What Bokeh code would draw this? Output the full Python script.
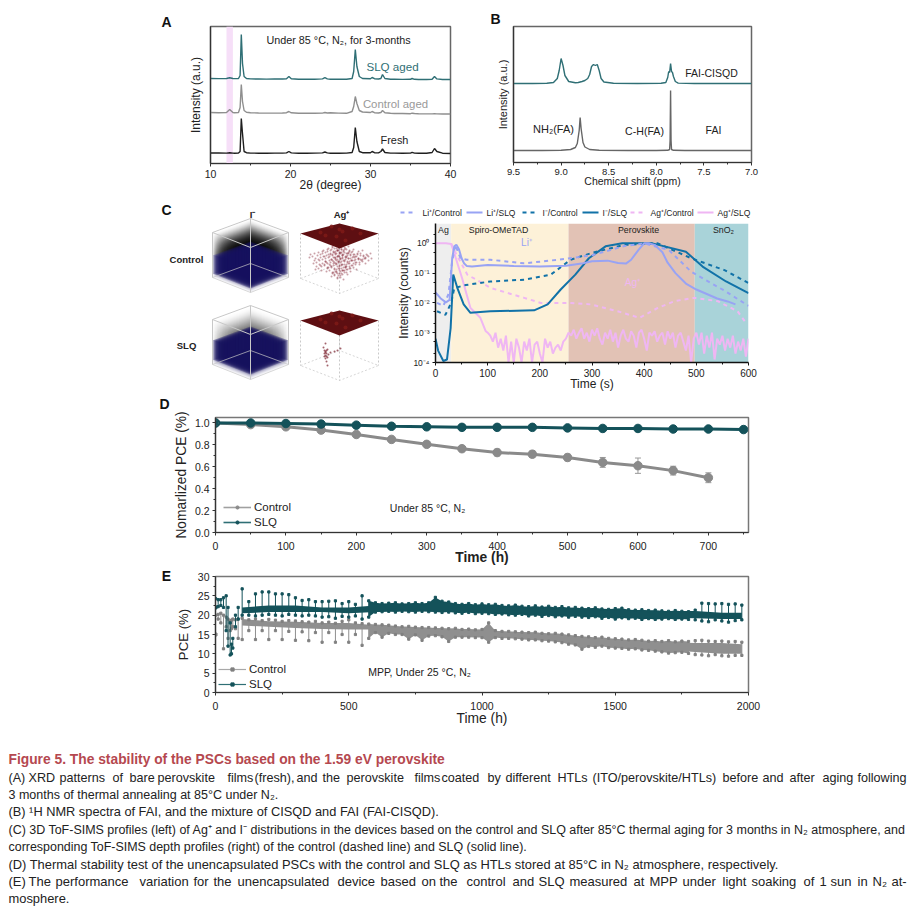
from bokeh.plotting import figure
from bokeh.layouts import column, row
from bokeh.models import (Label, FixedTicker, Legend, LegendItem, BoxAnnotation, TeeHead, Title,
                          CustomJSTickFormatter, Range1d, Whisker, ColumnDataSource)
from bokeh.core.properties import value
from bokeh.embed import file_html
from bokeh.resources import INLINE
import numpy as np

FONT = "Liberation Sans"
TEAL = "#2f6f75"; DTEAL = "#14525a"; GREY = "#8a8a8a"; INK = "#222222"

# ---------- Panel A: XRD ----------
xrd_x = [10,11,12,12.4,12.8,13,13.5,13.7,13.85,14,14.2,14.5,15,16,17,18,19,19.5,19.8,20.1,21,22,23,24,24.3,24.6,25,26,27,27.7,27.9,28.1,28.3,28.6,29,30,30.2,30.5,31,31.3,31.5,31.8,32.5,33,34,35,35.2,35.5,36,37,37.7,38,38.3,39,40]
xrd_fresh = [10.5,10.5,10.4,10.8,10.4,10.3,10.5,12,45,30,12,10.8,10.4,10.3,10.3,10.4,10.4,10.6,12,10.6,10.3,10.3,10.4,10.6,11.5,10.6,10.3,10.3,10.4,11,16,36,22,12,10.8,10.8,12,10.8,10.6,12,14.5,11,10.4,10.4,10.3,10.4,11.2,10.4,10.2,10.2,11,15,12,10.3,10]
xrd_control = [51,50.8,51,54,51,50.8,51,56,79,62,53,51.2,50.8,50.5,50.4,50.4,50.5,50.8,52,50.7,50.3,50.2,50.2,50.4,51,50.5,50.7,50.4,50.2,52,57,67,60,53,51.5,51,52,50.8,50.5,51,53,50.8,50.2,50,50,49.8,50.3,50,49.8,49.6,49.6,49.8,49.6,49.5,49.5]
xrd_slq = [85,84.9,85,85.8,85,84.9,85,88,129,100,87,85,84.6,84.5,84.4,84.5,84.5,84.8,87,84.7,84.3,84.2,84.3,84.6,85.8,84.6,84.3,84.2,84.3,85,92,114,97,87,85,84.8,86,84.8,84.5,85,89,85,84.2,84.2,84.1,84.2,85,84.2,84,84,84.3,87,84.6,84,84]
xrd_xticks = [10,20,30,40]
xrd_band = (12.0,12.8)

# ---------- Panel B: NMR ----------
nmr_x = [9.5,9.3,9.15,9.08,9.04,9.02,9.0,8.98,8.96,8.92,8.85,8.82,8.8,8.78,8.75,8.72,8.7,8.68,8.66,8.64,8.62,8.6,8.58,8.55,8.45,8.2,7.95,7.9,7.88,7.87,7.86,7.85,7.84,7.83,7.82,7.8,7.77,7.6,7.3,7.0]
nmr_mix = [79,79,79.3,80,84,92,104,97,87,81,79.7,80,80.5,81,82,84,88,96,98,97,98,92,84,80.5,79.3,79,79.2,80,85,91,90,99,91,90,86,81,79.4,79,79,79]
nmr_fai_x = [9.5,9.2,9.0,8.9,8.85,8.83,8.81,8.8,8.79,8.77,8.75,8.7,8.6,8.3,8.0,7.88,7.86,7.855,7.85,7.845,7.84,7.82,7.7,7.3,7.0]
nmr_fai = [12,12,12.3,13,15,19,32,45,34,20,15.5,13,12.3,12,12,12.2,13,22,72,22,13,12.2,12,12,12]
nmr_xticks = [9.5,9.0,8.5,8.0,7.5,7.0]

# ---------- Panel C: depth profiles (values are log10 counts) ----------
li_slq_t = [0,10,20,27,32,36,40,45,50,55,60,70,100,150,200,250,280,300,330,350,365,375,390,400,410,420,435,445,460,480,500,520,540,560,575]
li_slq = [-1.65,-1.85,-1.98,-1.9,-0.5,-0.1,-0.05,-0.2,-0.5,-0.68,-0.76,-0.78,-0.73,-0.76,-0.78,-0.75,-0.68,-0.6,-0.58,-0.66,-0.68,-0.55,-0.2,0,0,-0.05,-0.3,-0.65,-1.0,-1.35,-1.55,-1.7,-1.85,-1.95,-2.05]
li_ctl_t = [3,15,25,32,38,48,60,105,170,235,300,360,400,447,490,555,600]
li_ctl = [-2.0,-2.1,-1.7,-0.6,-0.05,-0.5,-0.55,-0.55,-0.67,-0.55,-0.4,-0.1,0,-0.22,-0.95,-1.6,-2.1]
i_slq_t = [0,5,15,22,29,34,42,54,67,105,189,215,240,268,294,326,358,416,480,512,557,600]
i_slq = [-3.2,-3.6,-3.95,-3.9,-2.85,-1.05,-1.5,-2.05,-2.33,-2.28,-2.25,-2.05,-1.55,-1.05,-0.5,-0.1,0,0,-0.28,-0.78,-1.28,-1.67]
i_ctl_t = [3,19,30,36,58,105,170,221,259,298,362,426,490,554,600]
i_ctl = [-2.28,-2.4,-2.0,-1.5,-1.4,-1.28,-1.22,-1.05,-0.55,-0.33,-0.05,0,-0.5,-0.9,-1.33]
ag_ctl_t = [30,35,61,106,170,202,253,298,349,391,426,458,496,541,579,595]
ag_ctl = [0,-0.2,-1.05,-1.5,-1.83,-2,-2,-2.05,-2.28,-2.5,-2.17,-1.94,-1.83,-1.94,-2.28,-2.67]
ag_slq_t = [0,10,20,30,35,51,67,86,96,100] + list(range(105,601,5))
ag_slq = [0,0,0,-0.02,-0.28,-1.17,-2.17,-2.5,-2.94,-3.0,
  -3.1,-3.3,-3.0,-3.5,-3.2,-3.6,-3.1,-4.0,-3.3,-4,-3.2,-3.5,-4,-3.3,-3.6,-3.2,-4,-3.4,-3.3,-3.7,-4,-3.2,-3.5,-3.3,-3.7,-3.5,-3.4,-3.6,-3.3,-3.2,
  -3.0,-3.1,-2.9,-3.2,-3.0,-2.85,-3.2,-3.0,-3.3,-2.9,-3.1,-2.85,-3.2,-3.4,-3.0,-3.2,-2.9,-3.3,-3.0,-3.5,-3.1,-2.9,-3.2,-3.3,-2.95,-3.1,-3.5,-3.0,-2.9,-3.2,-3.6,-3.0,-3.1,-2.95,-3.3,-3.1,-3.0,-3.4,-2.95,-3.2,-3.0,-3.5,-3.1,-3.0,-3.3,-3.6,-3.1,-4,-3.2,
  -3.0,-3.4,-3.0,-3.7,-3.1,-3.5,-3.0,-3.9,-3.2,-3.4,-3.1,-3.6,-3.2,-3.5,-3.1,-3.7,-3.3,-3.6,-3.2,-3.8,-3.2]
regions = [("Ag",0,30,"#eeeeee"),("Spiro-OMeTAD",30,255,"#fdf1d8"),("Perovskite",255,497,"#e2c2b5"),("SnO₂",497,605,"#a9d3d9")]
log_ticks = [1e-4,1e-3,1e-2,1e-1,1]

# Panel C cubes: depth layers (offset from cube top, colour, alpha)
ctl_layers = [(o,"#000000",.004+o*.0095) for o in range(0,23)] + [(o,"#17125f",.45) for o in range(23,42)] + \
             [(o,"#17125f",a) for o,a in zip([42,43,44,45],[.12,.08,.05,.03])]
slq_layers = [(o,"#000000",.001+o*.0028) for o in range(0,21)] + [(o,"#17125f",.48) for o in range(21,41)] + \
             [(o,"#17125f",a) for o,a in zip([41,42,43,44,45],[.16,.1,.07,.05,.03])]
ag_ctl_dots_x = [312,316,320,322,325,327,328,330,331,332,333,334,335,335,336,336,337,338,338,339,339,340,341,342,342,343,344,345,346,346,348,349,350,352,353,355,356,358,360,362,365,368,318,324,329,344,347,351,334,340,337,343]
ag_ctl_dots_y = [256,262,254,259,252,263,257,250,266,255,261,248,253,259,264,271,256,250,262,252,268,258,247,255,264,251,260,256,249,266,258,263,254,260,267,256,262,258,253,261,258,256,268,265,270,272,269,252,275,277,273,270]
ag_slq_dots_x = [323,324,324,325,325,325,326,326,326,327,327,328,330,334,337,340,327,325,324,326,325]
ag_slq_dots_y = [347,350,353,351,355,358,350,353,361,349,357,354,352,351,350,348,365,343,356,356,352]
ag_top_spots_x = [320,331,345,360,336,352,325,342,339]
ag_top_spots_y = [232,226,240,233,236,228,235,231,229]
legend_glyph_x = [(400,415),(466,482),(522,537),(582,598),(630,645),(697,713)]
legend_label_x = [422,486,542,602,650,717]

# ---------- Panel D ----------
d_t_control = [0,50,100,150,200,250,300,350,400,450,500,550,600,650,700]
d_control = [1.0,.985,.965,.935,.895,.85,.805,.765,.73,.715,.685,.64,.61,.565,.50]
d_err = [.01,.02,.02,.02,.02,.02,.02,.02,.03,.03,.03,.045,.07,.04,.045]
d_t_slq = [0,50,100,150,200,250,300,350,400,450,500,550,600,650,700,750]
d_slq = [1.0,1.0,.995,.99,.98,.97,.965,.96,.96,.96,.955,.95,.95,.945,.945,.94]

# ---------- Panel E ----------
e_t = [0,10,20,30,40,47,55,60,65,75,85] + list(range(100,1976,25))
e_slq_hi = [24.3,24,24,24.5,25,22,18,12.5,14,20,22,
  26.8,23.5,25.5,26,26,25.5,25.5,25.3,24.5,23.8,24,23.5,23.5,23.6,23.7,23,23.5,22.8,25,23.7,
  23.2,23,23.1,23.2,22.9,23,23.2,23,23.2,24.6,23.6,23.4,23,22.8,23,22.7,
  22.9,22.7,22.8,22.5,22.4,22.6,22.3,22.2,22.4,22.1,22.3,22,22.2,21.9,22,21.8,
  21.7,21.9,21.6,21.5,21.7,21.8,21.4,21.3,21.4,21.2,21.3,21.1,21,21.2,21,20.9,
  21.3,23.1,23,22.9,23,22.8,22.9,22.6]
e_slq_lo = [22,22.2,22.5,22,16,12,9.7,10,11.5,17,19,
  20,20,19.8,20,20.2,20,19.8,20.2,20,19.8,20,19.8,19.5,19.6,19.2,19.7,19.5,19.8,19,19.5,
  20.8,20.9,21,20.8,21,20.9,20.8,21,20.9,20.8,20.7,20.8,20.6,20.5,20.7,20.4,
  20.5,20.4,20.2,20.3,20.1,20,20.2,19.8,20,19.7,19.9,19.6,19.8,19.5,19.7,19.5,
  19.4,19.6,19.2,19.4,19,19.3,19.1,19.2,18.9,19.1,18.9,19,19.1,18.9,19,18.9,
  18.8,18.5,18.3,18.8,18.5,18.2,18.6,18.8]
e_ctl_hi = [20,20.2,20.5,20,19.5,19,18.5,18.7,19,18.8,19,
  19.2,18.8,19,18.6,18.9,18.7,18.4,18.6,18.5,18.3,18.2,18.4,18,18.2,17.9,18.4,18.8,18,17.8,17.7,
  17.6,17.5,17.4,17.2,17,17.1,16.9,16.8,16.8,16.7,16.6,16.5,16.6,16.3,16.4,16.2,
  16.3,18,16,15.8,15.8,15.7,15.6,15.5,15.6,15.3,15.2,15.3,15.1,14.9,14.7,14.5,
  14.4,14.2,14.3,14,13.9,13.8,13.6,13.7,13.5,13.3,13.4,13.2,13.4,13.1,13.3,13.2,
  13.4,13.5,13.3,13.2,13.3,13.1,13.2,13]
e_ctl_lo = [15,19,18,11.3,17,14,16,16.5,17,16.5,14,
  13.7,16,13.7,16,13.7,16,13.7,15.8,13.5,15.7,13.4,15.5,13,15.5,13,15,13,15,12.2,14,
  15.5,14.3,15.3,15,15,13.8,14.9,13.5,14.6,14.7,14.4,13.2,14.3,14.3,14.3,14.2,
  14.2,13,14.2,14,14,13.9,13.8,13.6,13.6,13.4,13.3,13.1,12.9,12.5,12.3,11.2,
  11.9,11.7,12,11.6,11.5,11.4,11.2,11.3,11,10.9,10.7,10.5,10.2,10.3,10.4,10.1,
  9.8,9.7,9.5,9.8,9.5,9.4,9.6,9.6]
core_t = [100,200,300,400,500,600,700,800,900,1000,1100,1200,1300,1400,1500,1600,1700,1800,1900,1975]
slq_core_hi = [22,22.5,22.5,22,22,22.5,23,22.8,22.6,22.5,22.3,22,21.9,21.8,21.5,21.3,21.1,21.1,20.6,20.6]
slq_core_lo = [20.5,20.8,20.8,20.8,20.5,20.8,21,21,20.9,20.7,20.5,20.2,20,20,19.7,19.4,19.3,19.2,19,19]
ctl_core_hi = [19,18.4,18.3,18,18,17.4,17,16.7,16.5,16.2,15.7,15.5,15,14.3,13.5,13.1,13,12.8,12.8,12.5]
ctl_core_lo = [17.3,17,16.7,16.4,16.3,16.3,15.9,15.5,15,14.6,14.2,13.8,13.4,12.5,11.9,11.5,11,10.5,10,10]

# ---------- Caption (words of justified lines carry their own x) ----------
caption = [
 (759, [(8,"Figure 5.  The stability of the PSCs based on the 1.59 eV perovskite")], "#b5484f", "bold", 13.8),
 (777, [(8,"(A)"),(28,"XRD"),(59,"patterns"),(112,"of"),(129,"bare"),(157,"perovskite"),(227,"films"),(254,"(fresh),"),(296,"and"),(322,"the"),(346,"perovskite"),(414,"films"),(441,"coated"),(487,"by"),(505,"different"),(557,"HTLs"),(592,"(ITO/perovskite/HTLs)"),(722,"before"),(762,"and"),(789,"after"),(822,"aging"),(857,"following")], INK, "normal", 12.6),
 (794, [(8,"3 months of thermal annealing at 85°C under N₂.")], INK, "normal", 12.5),
 (811, [(8,"(B) ¹H NMR spectra of FAI, and the mixture of CISQD and FAI (FAI-CISQD).")], INK, "normal", 12.8),
 (829, [(8,"(C) 3D ToF-SIMS profiles (left) of Ag⁺ and I⁻ distributions in the devices based on the control and SLQ after 85°C thermal aging for 3 months in N₂ atmosphere, and")], INK, "normal", 12.47),
 (846, [(8,"corresponding ToF-SIMS depth profiles (right) of the control (dashed line) and SLQ (solid line).")], INK, "normal", 12.45),
 (864, [(8,"(D) Thermal stability test of the unencapsulated PSCs with the control and SLQ as HTLs stored at 85°C in N₂ atmosphere, respectively.")], INK, "normal", 12.9),
 (881, [(8,"(E)"),(28,"The"),(55,"performance"),(139,"variation"),(193,"for"),(213,"the"),(237,"unencapsulated"),(337,"device"),(380,"based"),(421,"on"),(439,"the"),(466,"control"),(512,"and"),(538,"SLQ"),(569,"measured"),(633,"at"),(649,"MPP"),(682,"under"),(722,"light"),(751,"soaking"),(803,"of"),(819,"1"),(830,"sun"),(857,"in"),(872,"N₂"),(891,"at-")], INK, "normal", 13.0),
 (898, [(8,"mosphere.")], INK, "normal", 12.9),
]


def make(width, height, fl, ft, fr, fb, xr, yr, **kw):
    """Figure whose frame has page-pixel borders fl/ft/fr/fb."""
    p = figure(width=width, height=height, output_backend="svg", toolbar_location=None,
               min_border_left=fl, min_border_top=ft, min_border_right=fr, min_border_bottom=fb,
               x_range=Range1d(*xr), y_range=Range1d(*yr), frame_align=False, **kw)
    p.grid.visible = False
    p.background_fill_color = None
    p.border_fill_color = None
    return p


def plain(width, height, xr, yr):
    p = make(width, height, 0, 0, 0, 0, xr, yr, x_axis_location=None, y_axis_location=None)
    p.outline_line_color = None
    return p


def style_axis(ax, tick=9.5, lab=11.5, color="#333333", width=1.2, tick_gap=3):
    ax.major_label_text_font = FONT
    ax.major_label_text_font_size = f"{tick}px"
    ax.major_label_text_color = INK
    ax.axis_label_text_font = FONT
    ax.axis_label_text_font_style = "normal"
    ax.axis_label_text_font_size = f"{lab}px"
    ax.axis_label_text_color = INK
    ax.axis_line_color = color
    ax.axis_line_width = width
    ax.major_tick_line_color = color
    ax.minor_tick_line_color = color
    ax.major_tick_out = 3
    ax.major_tick_in = 0
    ax.minor_tick_out = 2
    ax.minor_tick_in = 0
    ax.major_label_standoff = tick_gap


def frame(p, color="#666666", width=1.5):
    p.outline_line_color = color
    p.outline_line_width = width
    p.outline_line_alpha = 1


def note(p, x, y, text, size=10, color=INK, align="center", bold=False, angle=0):
    p.add_layout(Label(x=x, y=y, text=text, text_font=FONT, text_font_size=f"{size}px", text_color=color,
                       text_align=align, text_baseline="middle", angle=angle,
                       text_font_style="bold" if bold else "normal"))


def letter_strip(letter, width, top, height, x, y):
    s = plain(width, height, (0, width), (top + height, top))
    note(s, x, y, letter, 14, "#111111", bold=True)
    return s


# ===== A =====
sa = letter_strip("A", 175, 0, 195, 166, 21)
pa = make(295, 195, 35, 26, 20, 32, (10, 40), (0, 137))
pa.add_layout(BoxAnnotation(left=xrd_band[0], right=xrd_band[1], fill_color="#f6dff8", fill_alpha=1, line_color=None, level="underlay"))
pa.line(xrd_x, xrd_fresh, line_color="#1f1f1f", line_width=1.4)
pa.line(xrd_x, xrd_control, line_color="#8f8f8f", line_width=1.4)
pa.line(xrd_x, xrd_slq, line_color=TEAL, line_width=1.4)
pa.xaxis.ticker = FixedTicker(ticks=xrd_xticks, minor_ticks=[15, 25, 35])
pa.xaxis.axis_label = "2θ (degree)"
pa.yaxis.axis_label = "Intensity (a.u.)"
pa.yaxis.ticker = FixedTicker(ticks=[])
style_axis(pa.xaxis[0], tick=10.5, lab=12); style_axis(pa.yaxis[0], lab=12)
pa.xaxis.axis_label_standoff = -3
pa.yaxis.axis_label_standoff = 8
frame(pa)
fa = lambda px: 10 + (px - 210) / 8.0
ga = lambda py: 163 - py
note(pa, fa(338), ga(39), "Under 85 °C, N₂, for 3-months", 10.8)
note(pa, fa(392), ga(66), "SLQ aged", 11.6, TEAL)
note(pa, fa(395), ga(103), "Control aged", 11.4, "#999999")
note(pa, fa(394), ga(139), "Fresh", 10.9)

# ===== B =====
pb = make(435, 195, 43, 26, 154, 33, (9.5, 7.0), (0, 136))
pb.title = Title(text="B", align="left", offset=-23, standoff=0, text_font=FONT, text_font_size="14px",
                 text_font_style="bold", text_color="#111111")
pb.line(nmr_x, nmr_mix, line_color=TEAL, line_width=1.4)
pb.line(nmr_fai_x, nmr_fai, line_color="#666666", line_width=1.4)
pb.xaxis.ticker = FixedTicker(ticks=nmr_xticks, minor_ticks=[9.25, 8.75, 8.25, 7.75, 7.25])
pb.xaxis.formatter = CustomJSTickFormatter(code="return tick.toFixed(1);")
pb.xaxis.axis_label = "Chemical shift (ppm)"
pb.yaxis.axis_label = "Intensity (a.u.)"
pb.yaxis.ticker = FixedTicker(ticks=[])
style_axis(pb.xaxis[0], tick=9.5, lab=10.5); style_axis(pb.yaxis[0], lab=11)
pb.xaxis.axis_label_standoff = -3
pb.yaxis.axis_label_standoff = 5
frame(pb)
fb_ = lambda px: 9.5 - (px - 513) * 2.5 / 238.0
gb = lambda py: 162 - py
note(pb, fb_(711), gb(72), "FAI-CISQD", 10.5)
note(pb, fb_(553), gb(128), "NH₂(FA)", 11)
note(pb, fb_(644), gb(130), "C-H(FA)", 10.6)
note(pb, fb_(713), gb(129), "FAI", 10.5)

# ===== C, cubes (axes are page pixels) =====
pc = plain(390, 198, (0, 390), (393, 195))


def rhomb(cx, y, hw=38, back=14, front=15):
    return [cx - hw, cx, cx + hw, cx], [y, y - back, y, y + front]


for dy, layers in [(0, ctl_layers), (87, slq_layers)]:
    xs, ys, cols, alphas = [], [], [], []
    for off, c, a in layers:
        rx, ry = rhomb(250, 232 + dy + off)
        xs.append(rx); ys.append(ry); cols.append(c); alphas.append(a)
    pc.patches(xs, ys, fill_color=cols, fill_alpha=alphas, line_color=None)
    wire = "#c8c8c8"
    rx, ry = rhomb(250, 232 + dy)
    pc.patch(rx, ry, fill_color=None, line_color=wire, line_width=1)
    rx, ry = rhomb(250, 277 + dy)
    pc.patch(rx, ry, fill_color=None, line_color=wire, line_width=1, line_alpha=.7)
    pc.segment([212, 288, 250, 250], [232 + dy, 232 + dy, 247 + dy, 218 + dy],
               [212, 288, 250, 250], [277 + dy, 277 + dy, 292 + dy, 263 + dy], line_color=wire, line_width=1)
    # Ag+ cube
    rx, ry = rhomb(339, 278 + dy, hw=39, back=15, front=15)
    pc.patch(rx, ry, fill_color=None, line_color="#cccccc", line_width=.8, line_dash="2 2")
    pc.segment([300, 378, 339, 339], [233 + dy, 233 + dy, 248 + dy, 223 + dy],
               [300, 378, 339, 339], [278 + dy, 278 + dy, 293 + dy, 263 + dy], line_color="#bbbbbb", line_width=.8, line_dash="2 2")

for sx, sy in [(0, 0), (3, 2), (-3, 1), (2, -3), (-2, -2)]:
    pc.scatter([v + sx for v in ag_ctl_dots_x], [v + sy for v in ag_ctl_dots_y], size=2, color="#8a2f3c", alpha=.45, line_color=None)
pc.scatter(ag_slq_dots_x, ag_slq_dots_y, size=2, color="#7a1f2c", alpha=.7, line_color=None)
for dy in (0, 87):
    rx, ry = rhomb(339, 233 + dy, hw=39, back=10, front=15)
    pc.patch(rx, ry, fill_color="#5e0f12", line_color=None)
pc.scatter(ag_top_spots_x, ag_top_spots_y, size=4, color="#7f1a18", alpha=.8, line_color=None)
pc.scatter(ag_top_spots_x, [v + 87 for v in ag_top_spots_y], size=4, color="#7f1a18", alpha=.8, line_color=None)
note(pc, 166, 209, "C", 14, "#111111", bold=True)
note(pc, 252, 214, "I⁻", 9.5, bold=True)
note(pc, 341, 214, "Ag⁺", 9.5, bold=True)
note(pc, 186, 259, "Control", 9.5, bold=True)
note(pc, 186, 345, "SLQ", 9.5, bold=True)

# ===== C, legend strip and depth profiles =====
LI = "#98a3f4"; IOD = "#1172a8"; AG = "#efb6f3"
series = [("Li⁺/Control", li_ctl_t, li_ctl, LI, "4 4"), ("Li⁺/SLQ", li_slq_t, li_slq, LI, "solid"),
          ("I⁻/Control", i_ctl_t, i_ctl, IOD, "4 4"), ("I⁻/SLQ", i_slq_t, i_slq, IOD, "solid"),
          ("Ag⁺/Control", ag_ctl_t, ag_ctl, AG, "4 4"), ("Ag⁺/SLQ", ag_slq_t, ag_slq, AG, "solid")]
pl = plain(515, 28, (390, 905), (223, 195))
for (name, t, v, c, dash), (g0, g1), lx in zip(series, legend_glyph_x, legend_label_x):
    pl.line([g0, g1], [212, 212], line_color=c, line_width=2, line_dash=dash)
    pl.text([lx], [212], text=[name], text_font=value(FONT), text_font_size="8.5px", text_color=INK, text_baseline="middle")

pr = make(515, 170, 45, 0, 157, 30, (0, 600), (1e-4, 4.64), y_axis_type="log")
for name, t0, t1, col in regions:
    pr.add_layout(BoxAnnotation(left=t0, right=min(t1, 600), fill_color=col, fill_alpha=1, line_color=None, level="underlay"))
for name, t, v, c, dash in series[::-1]:
    pr.line(t, 10.0 ** np.array(v), line_color=c, line_width=2, line_dash=dash)
pr.xaxis.ticker = FixedTicker(ticks=[0, 100, 200, 300, 400, 500, 600], minor_ticks=[50, 150, 250, 350, 450, 550])
pr.yaxis.ticker = FixedTicker(ticks=log_ticks, minor_ticks=[2e-4,5e-4,2e-3,5e-3,2e-2,5e-2,.2,.5,2])
pr.yaxis.formatter = CustomJSTickFormatter(code="""
const e = Math.round(Math.log10(tick));
const sup = {'-':'⁻','0':'⁰','1':'¹','2':'²','3':'³','4':'⁴'};
return '10' + String(e).split('').map(c => sup[c]).join('');""")
pr.xaxis.axis_label = "Time (s)"
pr.yaxis.axis_label = "Intensity (counts)"
style_axis(pr.xaxis[0], tick=10, lab=12, color="#111111", width=1.5)
style_axis(pr.yaxis[0], tick=8.5, lab=12, color="#111111", width=1.5)
pr.xaxis.axis_label_standoff = -3
pr.yaxis.axis_label_standoff = -1
pr.outline_line_color = None
frx = lambda px: (px - 435) / 0.5217
gry = lambda py: 10 ** ((243.3 - py) / 30.0)
for (name, t0, t1, col), cx in zip(regions, [443, 498, 638, 723]):
    note(pr, frx(cx), gry(230), name, 8.8)
note(pr, frx(526), gry(242), "Li⁺", 10, LI)
note(pr, frx(632), gry(283), "Ag⁺", 10, AG)

# ===== D =====
sd = letter_strip("D", 170, 393, 174, 164, 403)
pd_ = make(735, 174, 45, 24, 157, 33, (0, 757), (0, 1.05))
frame(pd_, "#777777", 1.5)
src = ColumnDataSource(dict(t=d_t_control, lo=[a - b for a, b in zip(d_control, d_err)], hi=[a + b for a, b in zip(d_control, d_err)]))
pd_.add_layout(Whisker(source=src, base="t", lower="lo", upper="hi", line_color="#999999", line_width=1,
                       upper_head=TeeHead(size=6, line_color="#999999"), lower_head=TeeHead(size=6, line_color="#999999")))
pd_.line(d_t_control, d_control, line_color=GREY, line_width=3)
pd_.scatter(d_t_control, d_control, size=8.5, color=GREY)
pd_.line(d_t_slq, d_slq, line_color=DTEAL, line_width=3)
pd_.scatter(d_t_slq, d_slq, size=8.5, color=DTEAL)
k1 = pd_.line(d_t_control[:1], d_control[:1], line_color="#a0a0a0", line_width=1.6)
k1b = pd_.scatter(d_t_control[:1], d_control[:1], size=5, color=GREY)
k2 = pd_.line(d_t_slq[:1], d_slq[:1], line_color=TEAL, line_width=1.6)
k2b = pd_.scatter(d_t_slq[:1], d_slq[:1], size=5, color=DTEAL)
pd_.xaxis.ticker = FixedTicker(ticks=list(range(0, 701, 100)), minor_ticks=list(range(50, 751, 100)))
pd_.yaxis.ticker = FixedTicker(ticks=[0, .2, .4, .6, .8, 1.0], minor_ticks=[.1, .3, .5, .7, .9])
pd_.yaxis.formatter = CustomJSTickFormatter(code="return tick.toFixed(1);")
pd_.xaxis.axis_label = "Time (h)"
pd_.yaxis.axis_label = "Nomarlized PCE (%)"
style_axis(pd_.xaxis[0], tick=10.5, lab=13.8, tick_gap=6); style_axis(pd_.yaxis[0], tick=10.5, lab=13.8)
pd_.xaxis.axis_label_text_font_style = "bold"
pd_.xaxis.axis_label_standoff = -3
pd_.yaxis.axis_label_standoff = 3
lg = Legend(items=[LegendItem(label="Control", renderers=[k1, k1b]), LegendItem(label="SLQ", renderers=[k2, k2b])],
            location=(8, 4), background_fill_alpha=0, border_line_alpha=0, glyph_width=28, glyph_height=8,
            label_standoff=3, spacing=3, padding=0, margin=0, label_text_font=FONT, label_text_font_size="11.5px",
            label_text_color=INK, label_height=11)
pd_.add_layout(lg)
note(pd_, (427 - 215) / 0.704, (534 - 509) / 111.4, "Under 85 °C, N₂", 10.5)

# ===== E =====
se = letter_strip("E", 172, 567, 163, 166, 575)
pe = make(733, 163, 43, 9, 157, 38, (0, 2000), (0, 30))
frame(pe, "#777777", 1.5)
c = "#8f8f8f"
i0, i1 = e_t.index(575), e_t.index(1800)
pe.segment(e_t, e_ctl_lo, e_t, e_ctl_hi, line_color=c, line_width=1)
pe.varea(core_t, ctl_core_lo, ctl_core_hi, fill_color=c)
pe.varea(e_t[i0:i1], e_ctl_lo[i0:i1], e_ctl_hi[i0:i1], fill_color=c)
pe.scatter(e_t + e_t, e_ctl_lo + e_ctl_hi, marker="square", size=2.2, color="#808080")
l3 = pe.line(e_t[:1], e_ctl_lo[:1], line_color="#a8a8a8", line_width=1.2)
s3 = pe.scatter(e_t[:1], e_ctl_lo[:1], marker="square", size=3, color="#808080")
pe.segment(e_t, e_slq_lo, e_t, e_slq_hi, line_color=DTEAL, line_width=1)
pe.varea(core_t, slq_core_lo, slq_core_hi, fill_color=DTEAL)
pe.varea(e_t[i0:i1], e_slq_lo[i0:i1], e_slq_hi[i0:i1], fill_color=DTEAL)
pe.scatter(e_t + e_t, e_slq_lo + e_slq_hi, marker="square", size=2.2, color=DTEAL)
l4 = pe.line(e_t[:1], e_slq_lo[:1], line_color=TEAL, line_width=1.2)
s4 = pe.scatter(e_t[:1], e_slq_lo[:1], marker="square", size=3, color=DTEAL)
pe.xaxis.ticker = FixedTicker(ticks=[0, 500, 1000, 1500, 2000], minor_ticks=[250, 750, 1250, 1750])
pe.yaxis.ticker = FixedTicker(ticks=[0, 5, 10, 15, 20, 25, 30], minor_ticks=[2.5, 7.5, 12.5, 17.5, 22.5, 27.5])
pe.xaxis.axis_label = "Time (h)"
pe.yaxis.axis_label = "PCE (%)"
style_axis(pe.xaxis[0], tick=10.5, lab=13.8, tick_gap=6); style_axis(pe.yaxis[0], tick=10.5, lab=13.2)
pe.xaxis.axis_label_standoff = -2
pe.yaxis.axis_label_standoff = 4
lg2 = Legend(items=[LegendItem(label="Control", renderers=[l3, s3]), LegendItem(label="SLQ", renderers=[l4, s4])],
             location=(3, 2), background_fill_alpha=0, border_line_alpha=0, glyph_width=28, glyph_height=8,
             label_standoff=3, spacing=3, padding=0, margin=0, label_text_font=FONT, label_text_font_size="11.5px",
             label_text_color=INK, label_height=11)
pe.add_layout(lg2)
note(pe, (419 - 215) / 0.2665, (692 - 671) / 3.867, "MPP, Under 25 °C, N₂", 10.5)

# ===== Caption =====
pt = plain(911, 176, (0, 911), (906, 730))
for y, parts, col, style, size in caption:
    pt.text([q[0] for q in parts], [y] * len(parts), text=[q[1] for q in parts], text_font=value(FONT),
            text_font_size=f"{size}px", text_color=col, text_font_style=style, text_baseline="middle", text_align="left")

page = column(row(sa, pa, pb), row(pc, column(pl, pr)), row(sd, pd_), row(se, pe), pt)
open("out.html", "w").write(file_html(page, INLINE))
